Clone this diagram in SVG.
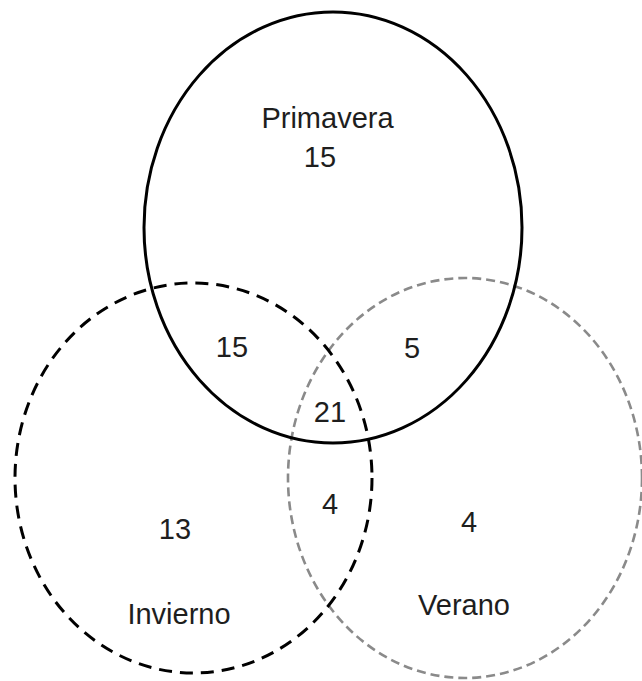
<svg xmlns="http://www.w3.org/2000/svg" width="642" height="681" viewBox="0 0 642 681">
<style>
.lbl{font-family:"Liberation Sans",Arial,sans-serif;font-size:29px;fill:#1e1e1e;text-anchor:middle}
.set{fill:none}
.primavera{stroke:#000;stroke-width:3}
.invierno{stroke:#000;stroke-width:3;stroke-dasharray:13 8}
.verano{stroke:#8a8a8a;stroke-width:2.6;stroke-dasharray:9 5}
</style>
<rect width="642" height="681" fill="#fff"/>
<g id="verano">
<ellipse class="set verano" cx="465" cy="478" rx="177" ry="200"/>
<text class="lbl" x="464" y="615">Verano</text>
<text class="lbl" x="469" y="532">4</text>
</g>
<g id="invierno">
<ellipse class="set invierno" cx="193.5" cy="478" rx="178.5" ry="195"/>
<text class="lbl" x="179" y="624">Invierno</text>
<text class="lbl" x="175" y="539">13</text>
</g>
<g id="primavera">
<ellipse class="set primavera" cx="333" cy="227.5" rx="189" ry="215.5"/>
<text class="lbl" x="327.5" y="128">Primavera</text>
<text class="lbl" x="320" y="167">15</text>
</g>
<g id="intersections">
<text class="lbl" x="232" y="357">15</text>
<text class="lbl" x="412" y="358">5</text>
<text class="lbl" x="330" y="422">21</text>
<text class="lbl" x="330" y="514">4</text>
</g>
</svg>
